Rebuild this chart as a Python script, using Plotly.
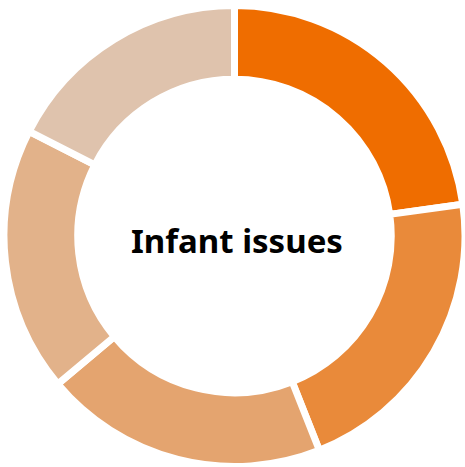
import plotly.graph_objects as go

labels = ["Slice 1", "Slice 2", "Slice 3", "Slice 4", "Slice 5"]
values = [22.8, 21.2, 19.9, 18.6, 17.5]
colors = ["#ef6d00", "#e98a3a", "#e4a46f", "#e2b28a", "#dfc3ad"]
center_text = "Infant issues"

fig = go.Figure(go.Pie(
    labels=labels,
    values=values,
    hole=0.68,
    sort=False,
    direction="clockwise",
    rotation=0,
    textinfo="none",
    hoverinfo="label+percent",
    marker=dict(colors=colors, line=dict(color="white", width=7)),
    showlegend=False,
))

fig.update_layout(
    width=465, height=467,
    margin=dict(l=4, r=0, t=5, b=0),
    paper_bgcolor="white",
    plot_bgcolor="white",
    annotations=[dict(
        text="<b>" + center_text + "</b>",
        x=0.5, y=0.5, xref="paper", yref="paper",
        showarrow=False, yshift=-4, xshift=2,
        font=dict(family="Noto Sans", size=33, color="#000000"),
    )],
)

fig.write_html("out.html")
